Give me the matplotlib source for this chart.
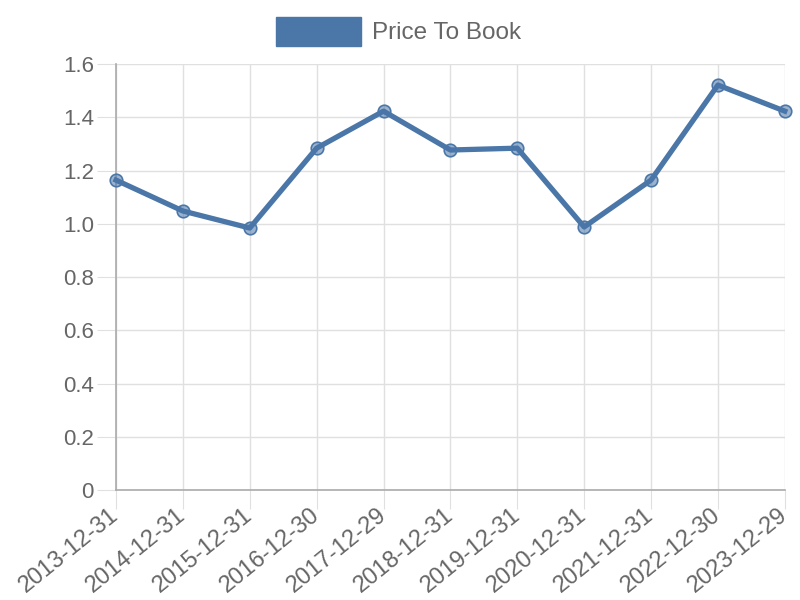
import matplotlib.pyplot as plt
from matplotlib.patches import Patch

dates = ['2013-12-31', '2014-12-31', '2015-12-31', '2016-12-30', '2017-12-29',
         '2018-12-31', '2019-12-31', '2020-12-31', '2021-12-31', '2022-12-30',
         '2023-12-29']
price_to_book = [1.164, 1.048, 0.984, 1.284, 1.423, 1.277, 1.284, 0.988, 1.164, 1.521, 1.423]

plt.rcParams['font.family'] = ['Liberation Sans', 'DejaVu Sans']
line_color = '#4a76a8'
text_color = '#666666'

fig = plt.figure(figsize=(8, 6), dpi=100)
ax = fig.add_axes([0.145, 0.1833, 0.836, 0.71])

x = list(range(len(dates)))
ax.plot(x, price_to_book, color=line_color, linewidth=3.8, marker='o', markersize=9,
        markerfacecolor=(0.29, 0.46, 0.66, 0.55), markeredgecolor=line_color,
        markeredgewidth=1.2, zorder=3, clip_on=False)

ax.set_xlim(0, len(dates) - 1)
ax.set_ylim(0, 1.6)
ax.set_yticks([0, 0.2, 0.4, 0.6, 0.8, 1.0, 1.2, 1.4, 1.6])
ax.set_yticklabels(['0', '0.2', '0.4', '0.6', '0.8', '1.0', '1.2', '1.4', '1.6'])
ax.set_xticks(x)
ax.set_xticklabels(dates, rotation=39, ha='right', va='center', rotation_mode='anchor',
                   fontsize=17)

ax.grid(True, color='#e0e0e0', linewidth=1)
ax.set_axisbelow(True)
for side in ['top', 'right']:
    ax.spines[side].set_visible(False)
for side in ['left', 'bottom']:
    ax.spines[side].set_color('#aaaaaa')
    ax.spines[side].set_linewidth(1.2)
ax.tick_params(axis='both', colors='#e0e0e0', length=14, labelcolor=text_color, pad=2)
ax.tick_params(axis='y', labelsize=16)

fig.legend(handles=[Patch(facecolor=line_color, edgecolor=line_color)],
           labels=['Price To Book'], loc='upper center', bbox_to_anchor=(0.498, 0.972),
           frameon=False, fontsize=17.5, labelcolor=text_color, borderpad=0,
           borderaxespad=0, handlelength=3.5, handleheight=1.45, handletextpad=0.45)

fig.savefig('out.png', dpi=100)
